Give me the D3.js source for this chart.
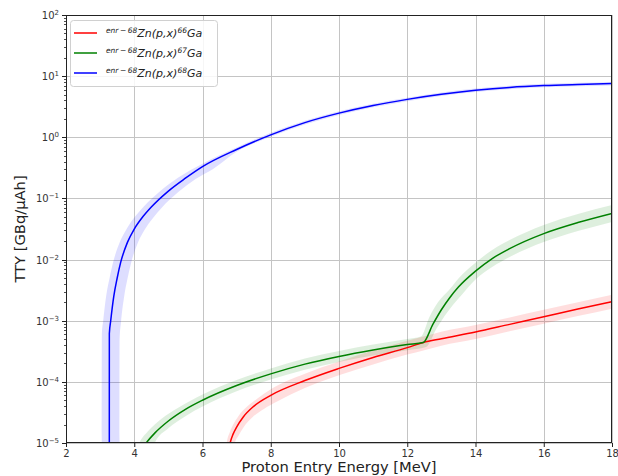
<!DOCTYPE html>
<html>
<head>
<meta charset="utf-8">
<script src="https://cdn.jsdelivr.net/npm/d3@7"></script>
<style>
  body { margin: 0; background: #fff; }
  svg { display: block; font-family: "DejaVu Sans", sans-serif; }
</style>
</head>
<body>
<svg id="chart" width="618" height="476"></svg>
<script>
// Axis ticks
const energyTicks = [2, 4, 6, 8, 10, 12, 14, 16, 18];
const decadeExponents = [-5, -4, -3, -2, -1, 0, 1, 2];

// Thick-target yield [GBq/uAh] versus proton entry energy [MeV]: [energy, yield]
const tty66 = [[6.74, 6e-6], [6.81, 1.0e-5], [6.9, 1.41e-5], [7.0, 1.82e-5], [7.2, 2.69e-5], [7.5, 3.98e-5],
  [8, 6.03e-5], [9, 1.05e-4], [10, 1.66e-4], [11, 2.51e-4], [12, 3.63e-4],
  [12.47, 4.4e-4], [13, 5.07e-4], [14, 6.53e-4], [15, 8.71e-4], [16, 1.16e-3], [17, 1.55e-3], [18, 2.04e-3]];
const tty66Upper = [[6.64, 4e-6], [6.71, 1.0e-5], [6.8, 1.5e-5], [6.9, 2.0e-5], [7.05, 2.75e-5], [7.3, 3.9e-5],
  [7.6, 5.3e-5], [8, 7.6e-5], [9, 1.36e-4], [10, 2.16e-4], [11, 3.26e-4], [12, 4.7e-4], [12.5, 5.55e-4],
  [13, 6.6e-4], [14, 8.5e-4], [15, 1.13e-3], [16, 1.51e-3], [17, 2.0e-3], [18, 2.65e-3]];
const tty66Lower = [[6.88, 4e-6], [6.95, 1.0e-5], [7.05, 1.3e-5], [7.2, 1.8e-5], [7.45, 2.6e-5], [7.8, 3.6e-5],
  [8.2, 4.8e-5], [9, 7.9e-5], [10, 1.28e-4], [11, 1.93e-4], [12, 2.8e-4], [12.5, 3.3e-4], [13, 3.9e-4],
  [14, 5.0e-4], [15, 6.7e-4], [16, 8.9e-4], [17, 1.19e-3], [18, 1.57e-3]];

const tty67 = [[4.15, 6.6e-6], [4.35, 1.0e-5], [4.6, 1.45e-5], [5.0, 2.29e-5], [5.5, 3.55e-5], [6, 5.01e-5],
  [7, 8.71e-5], [8, 1.35e-4], [9, 1.95e-4], [10, 2.6e-4], [11, 3.31e-4], [12, 4.07e-4], [12.47, 4.4e-4],
  [12.75, 8.7e-4], [13.0, 1.51e-3], [13.25, 2.4e-3], [13.5, 3.55e-3], [14, 6.46e-3], [14.5, 1.05e-2],
  [15, 1.51e-2], [16, 2.66e-2], [17, 4.03e-2], [18, 5.69e-2]];
const tty67Upper = [[4.0, 6e-6], [4.15, 1.0e-5], [4.4, 1.55e-5], [4.8, 2.5e-5], [5.3, 3.8e-5], [6, 6.2e-5],
  [7, 1.07e-4], [8, 1.66e-4], [9, 2.4e-4], [10, 3.2e-4], [11, 4.07e-4], [12, 5.0e-4], [12.4, 5.5e-4],
  [12.65, 1.15e-3], [12.9, 2.0e-3], [13.25, 3.3e-3], [13.5, 4.9e-3], [14, 8.9e-3], [14.5, 1.45e-2],
  [15, 2.08e-2], [16, 3.67e-2], [17, 5.55e-2], [18, 7.8e-2]];
const tty67Lower = [[4.45, 6e-6], [4.6, 1.0e-5], [5.0, 1.75e-5], [5.5, 2.75e-5], [6, 3.95e-5], [7, 7.0e-5],
  [8, 1.09e-4], [9, 1.58e-4], [10, 2.11e-4], [11, 2.69e-4], [12, 3.3e-4], [12.55, 3.7e-4],
  [12.85, 7.3e-4], [13.1, 1.2e-3], [13.35, 1.85e-3], [13.6, 2.65e-3], [14, 4.7e-3], [14.5, 7.6e-3],
  [15, 1.1e-2], [16, 1.93e-2], [17, 2.92e-2], [18, 4.12e-2]];

const tty68 = [[3.269, 1e-6], [3.27, 6.17e-4], [3.31, 1.0e-3], [3.4, 2.51e-3], [3.5, 5.0e-3], [3.6, 8.9e-3],
  [3.8, 1.91e-2], [4.0, 3.16e-2], [4.25, 5.0e-2], [4.5, 7.24e-2], [5.0, 0.132], [5.5, 0.214], [6, 0.331],
  [7, 0.631], [8, 1.096], [9, 1.738], [10, 2.483], [11, 3.311], [12, 4.169], [13, 5.047], [14, 5.861],
  [15, 6.546], [16, 7.015], [17, 7.311], [18, 7.551]];
const tty68Upper = [[3.049, 1e-6], [3.05, 6.2e-4], [3.09, 1.0e-3], [3.18, 2.6e-3], [3.28, 5.1e-3],
  [3.38, 9.0e-3], [3.58, 1.95e-2], [3.78, 3.2e-2], [4.03, 5.1e-2], [4.28, 7.4e-2], [4.78, 0.135],
  [5.28, 0.218], [6, 0.37], [7, 0.68], [8, 1.19], [9, 1.87], [10, 2.66], [11, 3.55], [12, 4.45],
  [13, 5.4], [14, 6.25], [15, 6.98], [16, 7.48], [17, 7.8], [18, 8.05]];
const tty68Lower = [[3.569, 1e-6], [3.57, 5e-4], [3.61, 9.3e-4], [3.7, 2.4e-3], [3.8, 4.8e-3], [3.9, 8.5e-3],
  [4.1, 1.85e-2], [4.3, 3.05e-2], [4.55, 4.8e-2], [4.8, 7.0e-2], [5.3, 0.128], [5.8, 0.208], [6.3, 0.30],
  [7, 0.58], [8, 1.02], [9, 1.62], [10, 2.32], [11, 3.1], [12, 3.9], [13, 4.72], [14, 5.48],
  [15, 6.12], [16, 6.56], [17, 6.84], [18, 7.06]];

const massNumbers = ["66", "67", "68"];
const lineColors = ["#ff0000", "#008000", "#0000ff"];

const series = [
  { mass: massNumbers[0], color: lineColors[0], values: tty66, upper: tty66Upper, lower: tty66Lower },
  { mass: massNumbers[1], color: lineColors[1], values: tty67, upper: tty67Upper, lower: tty67Lower },
  { mass: massNumbers[2], color: lineColors[2], values: tty68, upper: tty68Upper, lower: tty68Lower }
];

const plot = { left: 66, right: 612, top: 15, bottom: 443 };

const svg = d3.select("#chart");
const x = d3.scaleLinear().domain([2, 18]).range([plot.left, plot.right]);
const y = d3.scaleLog().domain([1e-5, 1e2]).range([plot.bottom, plot.top]);

svg.append("defs").append("clipPath").attr("id", "plot-clip")
  .append("rect")
  .attr("x", plot.left).attr("y", plot.top)
  .attr("width", plot.right - plot.left).attr("height", plot.bottom - plot.top);

// Grid
const grid = svg.append("g").attr("stroke", "#c4c4c4").attr("stroke-width", 1);
grid.selectAll("line.v").data(energyTicks).join("line")
  .attr("x1", d => Math.round(x(d)) + 0.5).attr("x2", d => Math.round(x(d)) + 0.5)
  .attr("y1", plot.top).attr("y2", plot.bottom);
grid.selectAll("line.h").data(decadeExponents).join("line")
  .attr("x1", plot.left).attr("x2", plot.right)
  .attr("y1", d => Math.round(y(Math.pow(10, d))) + 0.5)
  .attr("y2", d => Math.round(y(Math.pow(10, d))) + 0.5);

// Curves and their uncertainty bands
const line = d3.line().x(d => x(d[0])).y(d => y(d[1])).curve(d3.curveMonotoneX);
const bandPath = s => {
  const top = line(s.upper);
  const bottom = line(s.lower.slice().reverse());
  return top + "L" + bottom.slice(1) + "Z";
};

const marks = svg.append("g").attr("clip-path", "url(#plot-clip)");
marks.selectAll("path.band").data(series).join("path")
  .attr("class", "band")
  .attr("d", bandPath)
  .attr("fill", d => d.color)
  .attr("fill-opacity", 0.13)
  .attr("stroke", "none");
marks.selectAll("path.curve").data(series).join("path")
  .attr("class", "curve")
  .attr("d", d => line(d.values))
  .attr("fill", "none")
  .attr("stroke", d => d.color)
  .attr("stroke-width", 1.5);

// Frame
svg.append("rect")
  .attr("x", plot.left + 0.5).attr("y", plot.top + 0.5)
  .attr("width", plot.right - plot.left - 1).attr("height", plot.bottom - plot.top - 1)
  .attr("fill", "none").attr("stroke", "#222").attr("stroke-width", 1);

// X axis
const xAxis = svg.append("g")
  .attr("transform", `translate(0,${plot.bottom})`)
  .call(d3.axisBottom(x).tickValues(energyTicks).tickSize(4).tickPadding(3).tickFormat(d3.format("d")));
xAxis.select(".domain").remove();
xAxis.selectAll("line").attr("stroke", "#222");
xAxis.selectAll("text").attr("font-size", 10).attr("fill", "#333")
  .attr("font-family", "DejaVu Sans, sans-serif");

// Y axis (log) with minor ticks
const minorValues = [];
decadeExponents.slice(0, -1).forEach(e => {
  for (let m = 2; m <= 9; m++) minorValues.push(m * Math.pow(10, e));
});
const yAxisG = svg.append("g");
yAxisG.selectAll("line.minor").data(minorValues).join("line")
  .attr("x1", plot.left - 2).attr("x2", plot.left)
  .attr("y1", d => Math.round(y(d)) + 0.5).attr("y2", d => Math.round(y(d)) + 0.5)
  .attr("stroke", "#222").attr("stroke-width", 0.8);
yAxisG.selectAll("line.major").data(decadeExponents).join("line")
  .attr("x1", plot.left - 4).attr("x2", plot.left)
  .attr("y1", d => Math.round(y(Math.pow(10, d))) + 0.5)
  .attr("y2", d => Math.round(y(Math.pow(10, d))) + 0.5)
  .attr("stroke", "#222").attr("stroke-width", 1);
const yLabels = yAxisG.selectAll("text.ylab").data(decadeExponents).join("text")
  .attr("x", plot.left - 7)
  .attr("y", d => y(Math.pow(10, d)) + 4)
  .attr("text-anchor", "end")
  .attr("fill", "#333")
  .attr("font-size", 10);
yLabels.append("tspan").text("10");
yLabels.append("tspan").attr("dy", -4).attr("font-size", 7)
  .text(d => String(d).replace("-", "\u2212"));

// Axis titles
svg.append("text")
  .attr("x", (plot.left + plot.right) / 2).attr("y", 472)
  .attr("text-anchor", "middle").attr("font-size", 14.7).attr("fill", "#222")
  .text("Proton Entry Energy [MeV]");
svg.append("text")
  .attr("transform", `translate(25,${(plot.top + plot.bottom) / 2}) rotate(-90)`)
  .attr("text-anchor", "middle").attr("font-size", 14.7).attr("fill", "#222")
  .text("TTY [GBq/\u03BCAh]");

// Legend
const legend = svg.append("g");
legend.append("rect")
  .attr("x", 70.5).attr("y", 20.5).attr("width", 147).attr("height", 66)
  .attr("rx", 3).attr("fill", "#fff").attr("fill-opacity", 0.85)
  .attr("stroke", "#d0d0d0").attr("stroke-width", 1);
const rows = legend.selectAll("g.row").data(series).join("g")
  .attr("transform", (d, i) => `translate(0,${33 + i * 20})`);
rows.append("line")
  .attr("x1", 74).attr("x2", 97).attr("y1", 0).attr("y2", 0)
  .attr("stroke", d => d.color).attr("stroke-width", 1.5);
const entry = rows.append("text")
  .attr("x", 106).attr("y", 4)
  .attr("fill", "#222").attr("font-size", 11).attr("font-style", "italic");
entry.append("tspan").attr("font-size", 7.5).attr("dy", -4.5).text("enr\u2009\u2212\u200968");
entry.append("tspan").attr("dy", 4.5).text("Zn(p,x)");
entry.append("tspan").attr("font-size", 7.5).attr("dy", -4.5).text(d => d.mass);
entry.append("tspan").attr("dy", 4.5).text("Ga");
</script>
</body>
</html>
